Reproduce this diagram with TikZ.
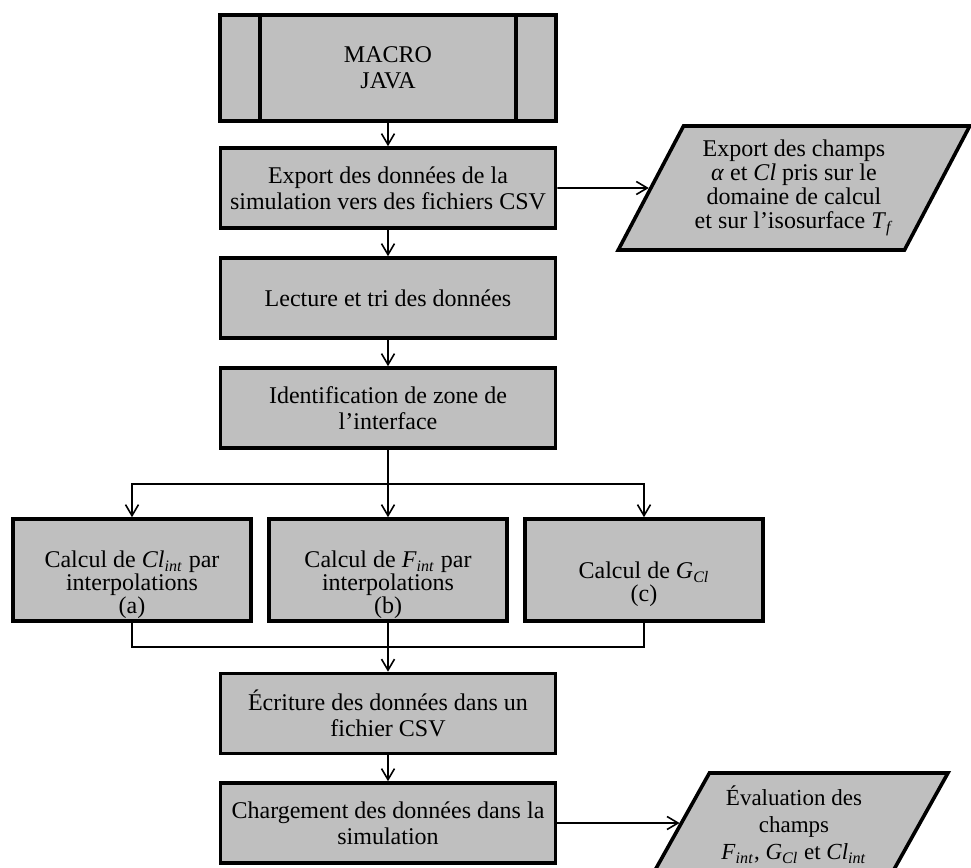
\documentclass[tikz,border=0pt]{standalone}
\usepackage{fontspec}
\setmainfont{Liberation Serif}
\usetikzlibrary{arrows.meta,shapes.geometric,positioning,calc}
\definecolor{boxfill}{RGB}{191,191,191}
\newcommand{\calcgap}{\rule{0pt}{23pt}}
\newcommand{\lowgap}{\rule[-12pt]{0pt}{0pt}}
\tikzset{
  proc/.style={draw=black, line width=1.8pt, fill=boxfill, align=center, inner sep=2pt, minimum width=167.5pt, minimum height=40pt, font=\fontsize{12}{13}\selectfont},
  calcbox/.style={proc, inner ysep=0pt, minimum width=119pt, minimum height=51pt, font=\fontsize{12}{11.5}\selectfont},
  datain/.style={trapezium, trapezium left angle=59, trapezium right angle=121, trapezium stretches=true, draw=black, line width=1.8pt, fill=boxfill, align=center, inner sep=1pt, minimum height=62pt},
  flow/.style={-{Straight Barb[length=5.5pt,width=6.5pt]}, line width=0.8pt},
  link/.style={line width=0.8pt}
}

\begin{document}
\begin{tikzpicture}[x=0.5pt,y=-0.5pt]
  \useasboundingbox (0,0) rectangle (971,868);
  \clip (0,0) rectangle (971,868);
  \node[proc, minimum width=168pt, minimum height=53pt] (macro) at (388,68) {MACRO\\JAVA};
  \draw[line width=1.8pt] ([xshift=21pt]macro.north west) -- ([xshift=21pt]macro.south west);
  \draw[line width=1.8pt] ([xshift=-21pt]macro.north east) -- ([xshift=-21pt]macro.south east);
  \node[proc] (export) at (388,188) {Export des données de la\\simulation vers des fichiers CSV};
  \node[proc] (lecture) at (388,298) {Lecture et tri des données};
  \node[proc] (ident) at (388,408) {Identification de zone de\\l’interface};
  \node[calcbox] (calcA) at (132,570) {\calcgap Calcul de \textit{Cl}\textsubscript{\textit{int}} par\\interpolations\\(a)};
  \node[calcbox] (calcB) at (388,570) {\calcgap Calcul de \textit{F}\textsubscript{\textit{int}} par\\interpolations\\(b)};
  \node[calcbox] (calcC) at (644,570) {\calcgap Calcul de \textit{G}\textsubscript{\textit{Cl}}\\(c)};
  \node[proc] (ecriture) at (388,713.5) {Écriture des données dans un\\fichier CSV};
  \node[proc] (charge) at (388,823) {Chargement des données dans la\\simulation};
  \node[datain, minimum width=176pt, font=\fontsize{12}{12}\selectfont] (champsA) at (794,188) {Export des champs\\\textit{α} et \textit{Cl} pris sur le\\domaine de calcul\\et sur l’isosurface \textit{T}\textsubscript{\textit{f}}};
  \node[datain, minimum width=154pt, font=\fontsize{11.5}{13.5}\selectfont] (champsB) at (794,835) {Évaluation des\\champs\\\textit{F}\textsubscript{\textit{int}}, \textit{G}\textsubscript{\textit{Cl}} et \textit{Cl}\textsubscript{\textit{int}}\lowgap};
  \coordinate (split) at (388,484);
  \coordinate (merge) at (388,647);
  \coordinate (hitB) at ($(champsB.bottom left corner)!0.597!(champsB.top left corner)$);
  \draw[flow] (macro) -- (export);
  \draw[flow] (export) -- (lecture);
  \draw[flow] (lecture) -- (ident);
  \draw[link] (ident) -- (split);
  \draw[flow] (split) -| (calcA);
  \draw[flow] (split) -- (calcB);
  \draw[flow] (split) -| (calcC);
  \draw[link] (calcA) |- (merge);
  \draw[link] (calcC) |- (merge);
  \draw[flow] (calcB) -- (ecriture);
  \draw[flow] (ecriture) -- (charge);
  \draw[flow] (export) -- (champsA);
  \draw[flow] (charge.east) -- (charge.east -| hitB);
\end{tikzpicture}
\end{document}
